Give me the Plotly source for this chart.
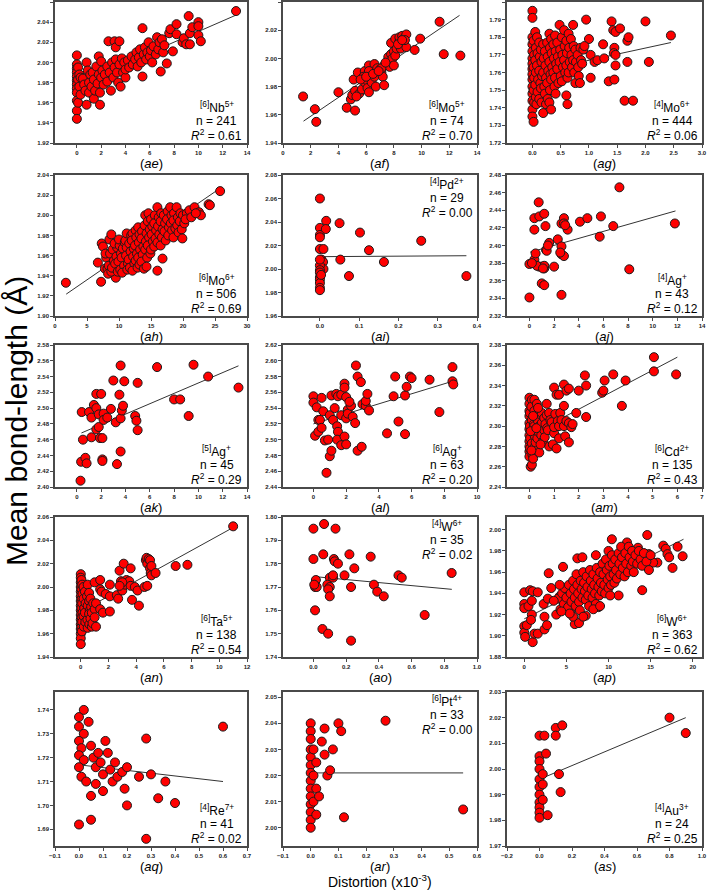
import plotly.graph_objects as go

# ---- data (distortion x1e-3, mean bond length in A) ----

ae_x = [0, 0, 0, 0, 0, 0, 0, 0, 0, 0, 0, 0, 0.1, 0.1, 0.1, 0.2, 0.2, 0.3, 0.3,
        0.5, 0.6, 0.7, 0.8, 0.8, 0.9, 1.0, 1.0, 1.1, 1.2, 1.3, 1.4, 1.4, 1.5, 1.6, 1.7, 1.8, 1.8, 1.9, 1.9,
        2.0, 2.0, 2.1, 2.2, 2.3, 2.5, 2.5, 2.6, 2.7, 2.8, 2.9, 3.0, 3.1, 3.1, 3.2, 3.2, 3.3, 3.4, 3.5, 3.5,
        3.6, 3.7, 3.8, 3.9, 4.0, 4.0, 4.2, 4.3, 4.5, 4.6, 4.8, 4.9, 5.0, 5.1, 5.2, 5.3, 5.4, 5.4, 5.5, 5.6,
        5.7, 5.8, 5.9, 6.0, 6.1, 6.2, 6.3, 6.5, 6.6, 6.7, 6.8, 6.9, 7.0, 7.1, 7.2, 7.4, 7.6, 7.7, 7.9, 8.2,
        8.2, 8.7, 8.8, 9.0, 9.2, 9.3, 9.3, 9.5, 10.0, 10.0, 10.0, 10.2, 13.1]
ae_y = [2.007, 1.998, 1.994, 1.990, 1.986, 1.982, 1.978, 1.974, 1.970, 1.962, 1.952, 1.944, 1.995, 1.983, 1.960,
        1.988, 1.976, 1.968, 1.985,
        1.984, 1.978, 1.972, 2.000, 1.958, 1.992, 1.980, 1.970, 1.988, 1.976, 1.990, 1.964, 1.983, 1.972, 1.996,
        1.979, 2.006, 1.988, 1.958, 1.970,
        2.001, 1.985, 1.992, 1.978, 1.988, 1.996, 1.981, 2.021, 1.990, 1.972, 2.000, 1.985, 2.021, 1.995, 2.015,
        2.003, 1.990, 1.980, 2.021, 1.998,
        1.976, 2.004, 1.990, 2.000, 1.985, 1.993, 2.002, 1.995, 2.006, 1.998, 2.003, 2.010, 1.996, 2.005, 2.013,
        2.000, 2.034, 1.986, 2.008, 2.015,
        2.003, 2.010, 2.020, 2.006, 2.012, 2.000, 2.016, 2.008, 2.025, 2.013, 2.020, 1.991, 2.023, 2.010, 2.017,
        1.999, 2.029, 2.033, 2.011, 2.038,
        2.028, 2.020, 2.024, 2.018, 2.046, 2.029, 2.018, 2.035, 2.040, 2.036, 2.027, 2.021, 2.051]
ae_fit_x = [0, 13.1]
ae_fit_y = [1.978, 2.047]

af_x = [1.45, 2.3, 2.4, 4.0, 4.6, 5.2, 5.1, 4.9, 5.0, 5.2, 5.4, 5.5, 5.7, 5.9, 5.8, 5.9, 6.1, 6.2, 6.2, 6.1,
        6.2, 6.4, 6.4, 6.6, 6.7, 6.6, 6.8, 7.0, 7.1, 7.2, 7.3, 7.3, 7.5, 7.7, 7.6, 7.8, 7.8, 7.9, 8.0, 8.0,
        8.1, 8.1, 8.2, 8.4, 8.4, 8.5, 8.6, 8.7, 8.7, 8.9, 8.9, 8.8, 9.5, 9.9, 11.3, 11.6, 12.8, 5.6, 6.0, 7.1,
        6.5, 6.9, 7.4, 8.3, 8.6, 5.3]
af_y = [1.973, 1.964, 1.955, 1.976, 1.965, 1.963, 1.985, 1.971, 1.974, 1.977, 1.990, 1.975, 1.978, 1.991, 1.987,
        1.983, 1.984, 1.995, 1.991, 1.979, 1.976, 1.986, 1.983, 1.996, 1.980, 1.987, 1.993, 1.992, 1.990, 1.987,
        1.995, 1.981, 1.995, 1.994, 2.001, 2.003, 2.011, 2.000, 1.995, 2.005, 2.002, 2.014, 2.007, 2.012, 2.015,
        2.007, 2.016, 2.014, 2.012, 2.017, 2.008, 2.013, 2.006, 2.014, 2.026, 2.003, 2.002, 1.985, 1.987, 1.993,
        1.989, 1.991, 1.997, 2.010, 2.013, 1.973]
af_fit_x = [1.48, 12.74]
af_fit_y = [1.9555, 2.0305]

ag_x = [0] * 15 + [
    0.02, 0.02, 0.03, 0.02, 0.03, 0.02, 0.03, 0.05, 0.06, 0.05, 0.06, 0.05, 0.06, 0.07,
    0.08, 0.09, 0.08, 0.10, 0.09, 0.12, 0.13, 0.12, 0.14, 0.12, 0.15, 0.16, 0.17, 0.15, 0.16,
    0.19, 0.20, 0.19, 0.21, 0.19, 0.22, 0.23, 0.24, 0.22, 0.24, 0.26, 0.27, 0.28, 0.26, 0.27,
    0.30, 0.31, 0.30, 0.32, 0.31, 0.30, 0.33, 0.34, 0.35, 0.33, 0.33, 0.37, 0.38, 0.37, 0.39,
    0.40, 0.41, 0.42, 0.40, 0.41, 0.44, 0.45, 0.44, 0.46, 0.48, 0.49, 0.48, 0.50, 0.52, 0.53, 0.54, 0.52,
    0.56, 0.57, 0.56, 0.58, 0.60, 0.61, 0.60, 0.62, 0.60, 0.62, 0.64, 0.65, 0.66, 0.64, 0.68, 0.69, 0.70,
    0.72, 0.73, 0.72, 0.74, 0.76, 0.77, 0.76, 0.80, 0.81, 0.82, 0.85, 0.86,
    0.95, 1.0, 1.03, 1.03, 1.1, 1.15, 1.25, 1.27, 1.35, 1.45, 1.40, 1.43, 1.47, 1.45, 1.44, 1.47, 1.47,
    1.55, 1.63, 1.78, 1.68, 1.68, 1.70, 2.0, 2.06, 2.45, 0.90, 0.84, 0.88, 0.92]
ag_y = [1.795, 1.791, 1.780, 1.776, 1.772, 1.768, 1.765, 1.762, 1.759, 1.756, 1.752, 1.748, 1.744, 1.739, 1.735,
        1.732, 1.778, 1.770, 1.763, 1.757, 1.750, 1.743, 1.783, 1.774, 1.767, 1.760, 1.753, 1.746, 1.742,
        1.780, 1.771, 1.764, 1.756, 1.749, 1.777, 1.769, 1.761, 1.754, 1.745, 1.773, 1.766, 1.758, 1.751, 1.743,
        1.776, 1.768, 1.760, 1.752, 1.737, 1.772, 1.764, 1.757, 1.748, 1.742, 1.777, 1.769, 1.761, 1.754, 1.745,
        1.782, 1.774, 1.766, 1.759, 1.750, 1.743, 1.779, 1.771, 1.763, 1.756, 1.739, 1.776, 1.768, 1.760, 1.752,
        1.781, 1.772, 1.765, 1.757, 1.748, 1.777, 1.769, 1.762, 1.754, 1.787, 1.773, 1.766, 1.758,
        1.780, 1.770, 1.763, 1.755,
        1.784, 1.775, 1.767, 1.760, 1.778, 1.771, 1.764, 1.757, 1.747, 1.742, 1.782, 1.774, 1.766, 1.760,
        1.779, 1.770, 1.763,
        1.787, 1.775, 1.767, 1.760, 1.773, 1.766, 1.754, 1.770, 1.763, 1.758, 1.774, 1.767,
        1.790, 1.779, 1.770, 1.757, 1.766, 1.767, 1.776, 1.768, 1.755, 1.756, 1.789, 1.784, 1.783, 1.774, 1.771,
        1.770, 1.764, 1.785, 1.744, 1.744, 1.766, 1.778, 1.780, 1.789, 1.766, 1.781, 1.773, 1.754, 1.765, 1.775]
ag_fit_x = [0, 2.45]
ag_fit_y = [1.760, 1.777]

ah_x = [1.7, 7.2, 6.7, 7.3, 7.5, 7.8, 9.5, 8.0, 8.2, 7.9, 8.3, 8.6, 8.4, 8.8, 8.5, 9.0, 9.2, 8.9, 8.8,
        9.6, 9.4, 9.8, 9.7, 9.3, 10.1, 10.3, 9.9, 10.2, 10.0, 10.6, 10.4, 10.8, 10.5, 10.9,
        11.0, 11.2, 11.1, 11.4, 11.3, 11.2, 11.6, 11.8, 11.5, 11.7, 11.9, 12.1, 12.0, 12.3, 12.2, 12.4, 12.1,
        12.6, 12.7, 12.5, 12.8, 12.6, 12.9, 13.0, 13.2, 13.1, 13.3, 13.0, 13.2, 13.6, 13.5, 13.8, 13.7, 13.5, 13.9,
        14.1, 14.0, 14.3, 14.2, 14.1, 14.4, 14.6, 14.5, 14.8, 14.7, 14.5, 14.9, 14.3,
        15.0, 15.2, 15.1, 15.3, 15.0, 15.6, 15.5, 15.8, 15.7, 15.5, 16.0, 16.2, 16.1, 16.3, 16.0, 16.0,
        16.6, 16.5, 16.8, 16.7, 16.5, 17.0, 17.2, 17.1, 17.3, 16.8, 17.6, 17.5, 17.8, 17.7,
        18.0, 18.2, 18.1, 18.3, 18.6, 18.5, 18.8, 18.5, 19.0, 19.2, 19.1, 19.3, 19.6, 19.5, 19.8,
        20.0, 20.2, 19.9, 20.6, 20.4, 21.0, 21.3, 21.8, 22.5, 22.8, 24.0, 24.2, 25.8, 22.0]
ah_y = [1.933, 1.934, 1.953, 1.972, 1.969, 1.947, 1.938, 1.958, 1.947, 1.962, 1.942, 1.962, 1.950, 1.944, 1.976,
        1.966, 1.955, 1.948, 1.981, 1.959, 1.952, 1.944, 1.968, 1.972, 1.970, 1.962, 1.954, 1.946, 1.976,
        1.967, 1.958, 1.950, 1.943, 1.973,
        1.975, 1.968, 1.960, 1.952, 1.946, 1.982, 1.972, 1.964, 1.956, 1.948, 1.980, 1.982, 1.975, 1.967, 1.959,
        1.952, 1.945,
        1.985, 1.978, 1.970, 1.962, 1.955, 1.948, 1.988, 1.981, 1.973, 1.966, 1.958, 1.951, 1.984, 1.977, 1.969,
        1.961, 1.954, 1.947,
        2.000, 1.990, 1.982, 1.974, 1.966, 1.958, 2.002, 1.994, 1.986, 1.978, 1.970, 1.962, 1.949,
        1.996, 1.989, 1.981, 1.974, 1.966, 2.000, 1.992, 1.985, 1.977, 1.969, 2.008, 1.998, 1.989, 1.981, 1.973,
        1.945,
        2.002, 1.994, 1.986, 1.978, 1.970, 2.000, 1.992, 1.984, 1.975, 1.957, 2.004, 1.996, 1.988, 1.980,
        2.008, 2.000, 1.992, 1.985, 2.002, 1.995, 1.987, 1.978, 2.008, 1.998, 1.990, 1.983, 2.002, 1.994, 1.986,
        2.000, 1.992, 1.977, 2.002, 1.996, 2.005, 1.998, 2.008, 2.003, 2.000, 2.011, 2.010, 2.024, 2.002]
ah_fit_x = [1.75, 25.15]
ah_fit_y = [1.9217, 2.024]

ai_x = [0, 0, 0, 0, 0, 0.009, 0.004, 0.008, 0.009, 0, 0, 0, 0, 0, 0, 0, 0, 0.016, 0.015, 0.05,
        0.052, 0.074, 0.102, 0.125, 0.163, 0.258, 0.373, 0, 0.003]
ai_y = [2.060, 2.035, 2.029, 2.027, 2.017, 2.017, 2.008, 2.006, 2.000, 2.003, 1.999, 1.997, 1.993, 1.991,
        1.988, 1.984, 1.982, 2.041, 2.034, 2.039, 2.008, 1.994, 2.031, 2.016, 2.006, 2.024, 1.994, 2.008, 1.995]
ai_fit_x = [0, 0.373]
ai_fit_y = [2.0105, 2.0113]

aj_x = [0, 0, 0.4, 0.5, 0.4, 0.4, 0.75, 0.8, 0.8, 1.0, 1.0, 1.2, 1.2, 1.2, 1.2, 1.3, 1.35, 1.4, 1.6, 2.0,
        2.3, 2.6, 2.6, 2.6, 2.6, 2.8, 2.8, 2.8, 3.1, 4.1, 4.7, 5.8, 5.7, 6.8, 7.3, 8.1, 11.8, 0.6, 1.1, 2.9,
        0.2, 1.5, 2.5]
aj_y = [2.341, 2.379, 2.384, 2.391, 2.418, 2.431, 2.449, 2.433, 2.376, 2.376, 2.357, 2.355, 2.374, 2.377,
        2.436, 2.422, 2.395, 2.394, 2.403, 2.376, 2.407, 2.399, 2.390, 2.425, 2.344, 2.388, 2.431, 2.425,
        2.418, 2.427, 2.431, 2.433, 2.410, 2.422, 2.466, 2.373, 2.425, 2.377, 2.374, 2.423, 2.380, 2.400, 2.392]
aj_fit_x = [0.05, 11.85]
aj_fit_y = [2.3924, 2.4392]

ak_x = [0.3, 0.35, 0.4, 0.5, 0.7, 0.8, 1.0, 1.2, 1.2, 1.4, 1.6, 1.6, 1.6, 1.8, 1.8, 2.0, 1.9, 2.1, 2.1,
        2.1, 2.2, 2.2, 2.5, 2.8, 3.0, 3.2, 3.3, 3.5, 3.6, 3.6, 3.6, 3.7, 3.8, 3.9, 4.8, 4.9, 5.0, 5.0, 6.6,
        8.0, 8.5, 9.2, 9.6, 10.8, 13.3]
ak_y = [2.408, 2.432, 2.495, 2.460, 2.437, 2.430, 2.495, 2.488, 2.463, 2.504, 2.518, 2.500, 2.473, 2.492,
        2.476, 2.518, 2.462, 2.462, 2.435, 2.433, 2.493, 2.485, 2.488, 2.499, 2.535, 2.482, 2.429, 2.517,
        2.554, 2.487, 2.445, 2.497, 2.503, 2.534, 2.490, 2.484, 2.472, 2.532, 2.552, 2.511, 2.511, 2.490,
        2.555, 2.540, 2.526]
ak_fit_x = [0.375, 13.3]
ak_fit_y = [2.4685, 2.5536]

al_x = [0, 0, 0.2, 0.3, 0.4, 0.5, 0.1, 0.3, 0.6, 0.7, 0.9, 0.8, 1.0, 1.1, 1.0, 1.1, 1.2, 1.4, 1.5, 1.7,
        1.45, 1.5, 1.45, 1.7, 1.7, 1.9, 1.9, 1.9, 2.0, 2.0, 2.0, 2.1, 2.1, 2.3, 2.4, 2.55, 2.6, 2.7, 2.7,
        2.9, 2.95, 3.0, 3.2, 3.2, 3.3, 3.4, 4.5, 4.9, 5.0, 5.2, 5.6, 5.6, 5.7, 5.9, 6.0, 7.1, 7.7, 8.5,
        8.5, 8.55, 1.3, 0.5, 2.2]
al_y = [2.555, 2.547, 2.541, 2.525, 2.525, 2.553, 2.505, 2.510, 2.536, 2.499, 2.500, 2.458, 2.479, 2.486,
        2.531, 2.556, 2.525, 2.558, 2.555, 2.557, 2.517, 2.510, 2.500, 2.493, 2.531, 2.571, 2.566, 2.504,
        2.494, 2.527, 2.554, 2.538, 2.533, 2.543, 2.529, 2.521, 2.594, 2.580, 2.486, 2.573, 2.491, 2.545,
        2.543, 2.549, 2.558, 2.537, 2.508, 2.555, 2.580, 2.523, 2.556, 2.507, 2.567, 2.580, 2.578, 2.576,
        2.535, 2.592, 2.574, 2.570, 2.540, 2.515, 2.548]
al_fit_x = [0, 8.5]
al_fit_y = [2.520, 2.574]

am_x = [0, 0, 0, 0, 0, 0, 0, 0, 0, 0, 0, 0.02, 0.02, 0.03, 0.02, 0.05, 0.1, 0.1, 0.08, 0.1, 0.12, 0.1,
        0.12, 0.15, 0.2, 0.2, 0.18, 0.22, 0.2, 0.2, 0.25, 0.25, 0.3, 0.3, 0.32, 0.35, 0.38, 0.4, 0.4, 0.42,
        0.5, 0.5, 0.48, 0.55, 0.6, 0.6, 0.62, 0.65, 0.7, 0.7, 0.72, 0.75, 0.8, 0.8, 0.85, 0.9, 0.95,
        1.0, 1.0, 1.0, 1.05, 1.1, 1.1, 1.15, 1.2, 1.2, 1.2, 1.25, 1.3, 1.4, 1.4, 1.4, 1.45, 1.5, 1.5, 1.6,
        1.6, 1.6, 1.7, 1.75, 1.9, 2.0, 2.25, 2.3, 2.3, 2.95, 3.0, 3.05, 3.4, 3.9, 3.75, 5.05, 5.05, 5.95,
        0.05, 0.15, 0.35, 0.45, 0.08, 0.28]
am_y = [2.328, 2.322, 2.315, 2.310, 2.303, 2.297, 2.291, 2.285, 2.280, 2.275, 2.270, 2.313, 2.300, 2.288,
        2.278, 2.260, 2.262, 2.326, 2.319, 2.306, 2.294, 2.283, 2.272, 2.268, 2.326, 2.315, 2.302, 2.290,
        2.279, 2.300, 2.309, 2.284, 2.322, 2.297, 2.288, 2.305, 2.294, 2.274, 2.300, 2.312,
        2.313, 2.303, 2.291, 2.285, 2.308, 2.296, 2.289, 2.302, 2.322, 2.311, 2.298, 2.296, 2.313, 2.280,
        2.306, 2.304, 2.282,
        2.338, 2.293, 2.299, 2.312, 2.331, 2.278, 2.305, 2.331, 2.288, 2.300, 2.313, 2.306, 2.341, 2.320,
        2.300, 2.290, 2.335, 2.305, 2.337, 2.284, 2.303, 2.299, 2.302, 2.313, 2.335, 2.350, 2.340, 2.309,
        2.333, 2.335, 2.345, 2.351, 2.345, 2.320, 2.368, 2.354, 2.351,
        2.295, 2.310, 2.318, 2.282, 2.276, 2.298]
am_fit_x = [0, 6.0]
am_fit_y = [2.291, 2.368]

an_x = [0] * 16 + [
    0.05, 0.05, 0.06, 0.05, 0.06, 0.05, 0.08, 0.1, 0.12, 0.1, 0.12, 0.1, 0.2, 0.2, 0.25, 0.2, 0.22,
    0.3, 0.35, 0.3, 0.33, 0.5, 0.45, 0.5, 0.48, 0.5, 0.6, 0.6, 0.65, 0.6, 0.62, 0.7, 0.75, 0.7, 0.8, 0.8,
    0.9, 0.85, 1.0, 1.0, 1.0, 1.1, 1.1, 1.4, 1.4, 1.5, 1.4, 1.6, 1.8,
    2.1, 2.1, 2.1, 2.6, 2.7, 2.8, 3.1, 2.9, 3.0, 3.2, 3.3, 3.5, 3.6, 3.7, 3.6, 3.9, 4.1, 4.2, 4.6, 4.8,
    4.7, 4.75, 4.8, 4.9, 5.0, 5.0, 5.05, 5.1, 5.1, 5.4, 6.85, 7.7, 11.0, 3.0, 2.8]
an_y = [2.011, 2.008, 2.004, 2.000, 1.996, 1.992, 1.988, 1.984, 1.980, 1.976, 1.972, 1.968, 1.964, 1.960,
        1.956, 1.951,
        2.006, 1.998, 1.990, 1.982, 1.974, 1.966, 1.962, 2.002, 1.994, 1.986, 1.978, 1.970, 2.000, 1.990,
        1.982, 1.975, 1.966, 1.996, 1.986, 1.978, 1.970, 2.002, 1.992, 1.984, 1.972, 1.965, 1.995, 1.988,
        1.980, 1.977, 1.968, 1.990, 1.983, 1.973, 1.978, 1.966, 1.986, 1.969, 2.004, 1.981, 1.974, 1.966,
        1.986, 2.006, 1.998, 1.996, 1.981, 1.978, 1.994,
        2.002, 1.992, 1.979, 1.993, 1.990, 2.014, 2.020, 2.005, 1.997, 2.002, 2.006, 2.005, 2.016, 1.989,
        2.001, 2.000, 1.997, 1.984, 2.000, 2.001, 2.023, 2.025, 2.020, 2.024, 2.023, 2.016, 2.012, 2.010,
        2.018, 2.012, 2.018, 2.019, 2.052, 2.004, 2.001]
an_fit_x = [0, 11.0]
an_fit_y = [1.979, 2.051]

ao_x = [0.0, 0.065, 0.135, 0.0, 0.06, 0.125, 0.13, 0.15, 0.22, 0.25, 0.35, 0.015, 0.01, 0.02, 0.01, 0.055,
        0.09, 0.1, 0.12, 0.085, 0.1, 0.09, 0.1, 0.19, 0.23, 0.23, 0.37, 0.39, 0.43, 0.52, 0.54, 0.68, 0.845,
        0.12, 0.005]
ao_y = [1.795, 1.797, 1.795, 1.782, 1.784, 1.782, 1.781, 1.780, 1.784, 1.778, 1.783, 1.773, 1.770, 1.770,
        1.760, 1.752, 1.750, 1.774, 1.774, 1.771, 1.770, 1.769, 1.766, 1.775, 1.770, 1.747, 1.771, 1.768,
        1.766, 1.775, 1.774, 1.758, 1.776, 1.775, 1.771]
ao_fit_x = [0, 0.846]
ao_fit_y = [1.7745, 1.769]

ap_x = [0, 0, 0, 0, 0, 0.1, 0.3, 0.5, 0.7, 1.0, 0.9, 0.9, 0.8, 1.0, 1.2, 1.6, 1.6, 2.3, 2.4, 2.4, 2.7,
        2.8, 2.9, 3.8, 4.2, 4.6, 5.5, 6.0, 5.8, 6.3, 6.9, 7.3, 8.5, 8.8, 10.0, 10.4, 11.2, 12.2, 12.5, 13.5,
        14.0, 14.6, 14.8, 15.8, 15.3, 16.5, 16.8, 17.0, 17.2, 17.6, 18.2, 18.8,
        4.0, 4.3, 4.5, 4.7, 4.8, 5.0, 5.2, 5.3, 5.5, 5.6, 5.8, 5.9, 6.0, 6.1, 6.2, 6.3, 6.4, 6.5, 6.6, 6.7,
        6.8, 6.9, 7.0, 7.1, 7.2, 7.3, 7.4, 7.5, 7.6, 7.7, 7.8, 7.9, 8.0, 8.1, 8.2, 8.3, 8.4, 8.5, 8.6, 8.7,
        8.8, 8.9, 9.0, 9.1, 9.2, 9.3, 9.4, 9.5, 9.6, 9.7, 9.8, 9.9, 10.0, 10.1, 10.2, 10.3, 10.4, 10.5,
        10.6, 10.7, 10.8, 10.9, 11.0, 11.2, 11.3, 11.4, 11.5, 11.6, 11.7, 11.9, 12.0, 12.1, 12.3, 12.4,
        12.5, 12.7, 12.8, 12.9, 13.0, 13.2, 13.4, 13.6, 13.8, 14.0, 14.2, 14.5, 14.8, 15.0,
        5.4, 6.5, 7.0, 8.2, 9.0, 10.2, 3.5, 3.2, 4.2, 4.4]
ap_y = [1.941, 1.930, 1.926, 1.909, 1.903, 1.899, 1.910, 1.928, 1.943, 1.942, 1.933, 1.920, 1.915, 1.894,
        1.902, 1.902, 1.941, 1.930, 1.918, 1.906, 1.910, 1.935, 1.959, 1.920, 1.937, 1.965, 1.921, 1.911,
        1.918, 1.973, 1.974, 1.919, 1.976, 1.927, 1.980, 1.991, 1.938, 1.988, 1.980, 1.983, 1.943, 1.995,
        1.977, 1.969, 1.969, 1.985, 1.982, 1.977, 1.974, 1.964, 1.984, 1.975,
        1.935, 1.925, 1.940, 1.930, 1.945, 1.936, 1.927, 1.948, 1.940, 1.932, 1.952, 1.944, 1.936, 1.928,
        1.958, 1.948, 1.940, 1.932, 1.924, 1.952, 1.944, 1.936, 1.960, 1.950, 1.942, 1.934, 1.956, 1.946,
        1.938, 1.928, 1.962, 1.952, 1.944, 1.936, 1.958, 1.948, 1.940, 1.930, 1.964, 1.954, 1.946, 1.938,
        1.960, 1.950, 1.942, 1.968, 1.958, 1.948, 1.940, 1.972, 1.962, 1.953, 1.945, 1.966, 1.956, 1.948,
        1.976, 1.968, 1.958, 1.950, 1.972, 1.962, 1.954, 1.978, 1.968, 1.958, 1.984, 1.974, 1.964, 1.956,
        1.978, 1.968, 1.960, 1.984, 1.974, 1.966, 1.980, 1.970, 1.960, 1.976, 1.968, 1.980, 1.972, 1.966,
        1.978, 1.970, 1.962, 1.976,
        1.921, 1.912, 1.918, 1.925, 1.928, 1.938, 1.933, 1.945, 1.948, 1.923]
ap_fit_x = [0, 18.9]
ap_fit_y = [1.916, 1.991]

aq_x = [0.0, 0.02, 0.0, 0.02, 0.0, 0.01, 0.0, 0.02, 0.0, 0.01, 0.0, 0.05, 0.04, 0.05, 0.06, 0.07, 0.07,
        0.08, 0.09, 0.10, 0.10, 0.12, 0.13, 0.14, 0.15, 0.16, 0.18, 0.19, 0.20, 0.28, 0.28, 0.30, 0.33,
        0.36, 0.40, 0.60, 0.03, 0.05, 0.2, 0.25, 0.11]
aq_y = [1.737, 1.740, 1.733, 1.730, 1.727, 1.724, 1.721, 1.719, 1.716, 1.712, 1.692, 1.694, 1.735, 1.725,
        1.720, 1.716, 1.709, 1.722, 1.718, 1.713, 1.706, 1.722, 1.715, 1.710, 1.718, 1.712, 1.714, 1.707,
        1.716, 1.728, 1.686, 1.713, 1.703, 1.710, 1.701, 1.733, 1.710, 1.704, 1.700, 1.712, 1.727]
aq_fit_x = [0, 0.6]
aq_fit_y = [1.717, 1.710]

ar_x = [0] * 15 + [0.01, 0.01, 0.01, 0.02, 0.02, 0.05, 0.05, 0.06, 0.08, 0.1, 0.11, 0.12, 0.27, 0.55,
                   0.02, 0.04, 0.03, 0.07]
ar_y = [2.055, 2.040, 2.037, 2.034, 2.030, 2.027, 2.024, 2.021, 2.018, 2.015, 2.012, 2.009, 2.006, 2.003,
        2.000, 2.030, 2.020, 2.010, 2.025, 2.015, 2.038, 2.028, 2.020, 2.030, 2.040, 2.037, 2.004, 2.041,
        2.007, 2.005, 2.033, 2.012, 2.022]
ar_fit_x = [0, 0.55]
ar_fit_y = [2.021, 2.021]

as_x = [0] * 11 + [0.02, 0.02, 0.03, 0.1, 0.1, 0.12, 0.13, 0.14, 0.8, 0.9, 0.05, 0.02, 0.04]
as_y = [2.013, 2.005, 2.003, 2.000, 1.996, 1.993, 1.990, 1.987, 1.985, 1.983, 1.981, 1.998, 1.988, 2.013,
        2.016, 2.013, 1.998, 1.991, 2.017, 2.020, 2.014, 1.982, 1.994, 2.006]
as_fit_x = [0, 0.9]
as_fit_y = [1.996, 2.020]

# ---- layout geometry (pixels of the 708 x 892 page) ----
W, H = 708, 892
col_px = [(55, 247), (283, 477), (507, 702)]
row_px = [(2, 143), (175, 316), (345, 487), (517, 657), (692, 846)]
label_gap = [20, 20, 20, 20, 20]   # distance from axis bottom to the (ae)... label, per row

panels = [
    dict(tag='ae', el='Nb', cn='6', ox='5+', n=241, r2='0.61', x=ae_x, y=ae_y, fx=ae_fit_x, fy=ae_fit_y,
         xr=[-1.8, 14], xd=2, xf='d', yr=[1.92, 2.06], yd=0.02, yf='.2f', pos='br'),
    dict(tag='af', el='Mo', cn='6', ox='5+', n=74, r2='0.70', x=af_x, y=af_y, fx=af_fit_x, fy=af_fit_y,
         xr=[0, 14], xd=2, xf='d', yr=[1.94, 2.04], yd=0.02, yf='.2f', pos='br'),
    dict(tag='ag', el='Mo', cn='4', ox='6+', n=444, r2='0.06', x=ag_x, y=ag_y, fx=ag_fit_x, fy=ag_fit_y,
         xr=[-0.45, 3.0], xd=0.5, xf='.1f', yr=[1.72, 1.80], yd=0.01, yf='.2f', pos='br'),
    dict(tag='ah', el='Mo', cn='6', ox='6+', n=506, r2='0.69', x=ah_x, y=ah_y, fx=ah_fit_x, fy=ah_fit_y,
         xr=[0, 30], xd=5, xf='d', yr=[1.90, 2.04], yd=0.02, yf='.2f', pos='br'),
    dict(tag='ai', el='Pd', cn='4', ox='2+', n=29, r2='0.00', x=ai_x, y=ai_y, fx=ai_fit_x, fy=ai_fit_y,
         xr=[-0.094, 0.4], xd=0.1, xf='.1f', yr=[1.96, 2.08], yd=0.02, yf='.2f', pos='tr'),
    dict(tag='aj', el='Ag', cn='4', ox='+', n=43, r2='0.12', x=aj_x, y=aj_y, fx=aj_fit_x, fy=aj_fit_y,
         xr=[-1.82, 14], xd=2, xf='d', yr=[2.32, 2.48], yd=0.02, yf='.2f', pos='br'),
    dict(tag='ak', el='Ag', cn='5', ox='+', n=45, r2='0.29', x=ak_x, y=ak_y, fx=ak_fit_x, fy=ak_fit_y,
         xr=[-1.8, 14], xd=2, xf='d', yr=[2.40, 2.58], yd=0.02, yf='.2f', pos='br'),
    dict(tag='al', el='Ag', cn='6', ox='+', n=63, r2='0.20', x=al_x, y=al_y, fx=al_fit_x, fy=al_fit_y,
         xr=[-1.86, 10], xd=2, xf='d', yr=[2.44, 2.62], yd=0.02, yf='.2f', pos='br'),
    dict(tag='am', el='Cd', cn='6', ox='2+', n=135, r2='0.43', x=am_x, y=am_y, fx=am_fit_x, fy=am_fit_y,
         xr=[-0.91, 7], xd=1, xf='d', yr=[2.24, 2.38], yd=0.02, yf='.2f', pos='br'),
    dict(tag='an', el='Ta', cn='6', ox='5+', n=138, r2='0.54', x=an_x, y=an_y, fx=an_fit_x, fy=an_fit_y,
         xr=[-1.86, 12], xd=2, xf='d', yr=[1.94, 2.06], yd=0.02, yf='.2f', pos='br'),
    dict(tag='ao', el='W', cn='4', ox='6+', n=35, r2='0.02', x=ao_x, y=ao_y, fx=ao_fit_x, fy=ao_fit_y,
         xr=[-0.186, 1.0], xd=0.2, xf='.1f', yr=[1.74, 1.80], yd=0.01, yf='.2f', pos='tr'),
    dict(tag='ap', el='W', cn='6', ox='6+', n=363, r2='0.62', x=ap_x, y=ap_y, fx=ap_fit_x, fy=ap_fit_y,
         xr=[-2.05, 21.1], xd=5, xf='d', yr=[1.88, 2.012], yd=0.02, yf='.2f', pos='br'),
    dict(tag='aq', el='Re', cn='4', ox='7+', n=41, r2='0.02', x=aq_x, y=aq_y, fx=aq_fit_x, fy=aq_fit_y,
         xr=[-0.1, 0.7], xd=0.1, xf='.1f', yr=[1.683, 1.7475], yd=0.01, yf='.2f', pos='br'),
    dict(tag='ar', el='Pt', cn='6', ox='4+', n=33, r2='0.00', x=ar_x, y=ar_y, fx=ar_fit_x, fy=ar_fit_y,
         xr=[-0.1, 0.6], xd=0.1, xf='.1f', yr=[1.993, 2.052], yd=0.01, yf='.2f', pos='tr'),
    dict(tag='as', el='Au', cn='4', ox='3+', n=24, r2='0.25', x=as_x, y=as_y, fx=as_fit_x, fy=as_fit_y,
         xr=[-0.2, 1.0], xd=0.2, xf='.1f', yr=[1.97, 2.03], yd=0.01, yf='.2f', pos='br'),
]

FONT = 'Liberation Sans, Arial, sans-serif'
FRAME = '#4a4a4a'

fig = go.Figure()
layout = dict(width=W, height=H, margin=dict(l=0, r=0, t=0, b=0, autoexpand=False),
              paper_bgcolor='white', plot_bgcolor='white', showlegend=False,
              font=dict(family=FONT, color='black'))
annotations = []

for i, p in enumerate(panels):
    assert len(p['x']) == len(p['y']), p['tag']
    r, c = divmod(i, 3)
    x0, x1 = col_px[c]
    y0, y1 = row_px[r]
    k = '' if i == 0 else str(i + 1)
    xa, ya = 'x' + k, 'y' + k

    # regression line first so the markers sit on top of it
    fig.add_trace(go.Scatter(x=p['fx'], y=p['fy'], mode='lines', xaxis=xa, yaxis=ya,
                             line=dict(color='#333333', width=1), hoverinfo='skip'))
    fig.add_trace(go.Scatter(x=p['x'], y=p['y'], mode='markers', xaxis=xa, yaxis=ya,
                             marker=dict(color='#ff0000', size=9, line=dict(color='#1a1a1a', width=1))))

    axis_common = dict(showline=True, mirror=True, linecolor=FRAME, linewidth=1.5,
                       showgrid=False, zeroline=False, ticks='outside', ticklen=3,
                       tickcolor=FRAME, tickwidth=1,
                       tickfont=dict(size=6, color='#222222', family=FONT, weight='bold'))
    layout['xaxis' + k] = dict(axis_common, domain=[x0 / W, x1 / W], range=p['xr'], anchor=ya,
                               tick0=0, dtick=p['xd'], tickformat=p['xf'])
    layout['yaxis' + k] = dict(axis_common, domain=[1 - y1 / H, 1 - y0 / H], range=p['yr'], anchor=xa,
                               tick0=0, dtick=p['yd'], tickformat=p['yf'])

    # panel label under the axis
    annotations.append(dict(xref='paper', yref='paper', x=(x0 + x1) / 2 / W,
                            y=1 - (y1 + label_gap[r]) / H,
                            text='(<i>%s</i>)' % p['tag'], showarrow=False,
                            font=dict(size=13, family=FONT), xanchor='center', yanchor='middle'))

    # ion / n / R2 block
    cx = (x1 - 30) / W
    if p['pos'] == 'br':
        offs = [y1 - 36, y1 - 22, y1 - 8]
    else:
        offs = [y0 + 9, y0 + 23, y0 + 37]
    lines = ['<sup>[%s]</sup>%s<sup>%s</sup>' % (p['cn'], p['el'], p['ox']),
             'n = %d' % p['n'],
             '<i>R</i><sup>2</sup> = %s' % p['r2']]
    for yy, t in zip(offs, lines):
        annotations.append(dict(xref='paper', yref='paper', x=cx, y=1 - yy / H, text=t,
                                showarrow=False, font=dict(size=12, family=FONT),
                                xanchor='center', yanchor='middle'))

annotations.append(dict(xref='paper', yref='paper', x=16 / W, y=1 - 421 / H, textangle=-90,
                        text='Mean bond-length (Å)', showarrow=False,
                        font=dict(size=30, family=FONT), xanchor='center', yanchor='middle'))
annotations.append(dict(xref='paper', yref='paper', x=380 / W, y=1 - 881 / H,
                        text='Distortion (x10<sup>-3</sup>)', showarrow=False,
                        font=dict(size=14, family=FONT), xanchor='center', yanchor='middle'))

layout['annotations'] = annotations
fig.update_layout(**layout)

# the page body keeps its default 8px margin otherwise, which shifts the figure
fig.write_html("out.html", config={'displayModeBar': False},
               post_script="document.body.style.margin='0';")
